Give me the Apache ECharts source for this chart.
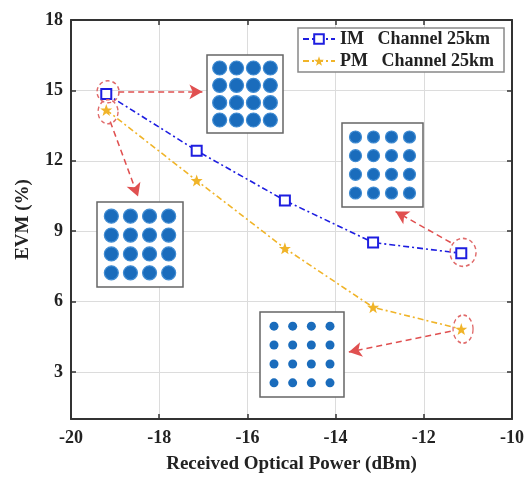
<!DOCTYPE html>
<html><head><meta charset="utf-8">
<script src="https://cdn.jsdelivr.net/npm/echarts@6/dist/echarts.min.js"></script>
<style>html,body{margin:0;padding:0;background:#fff}#c{width:529px;height:483px}</style>
</head><body><div id="c"></div>
<script>
// ---- data ----
const powerIM = [-19.2, -17.15, -15.15, -13.15, -11.15];
const evmIM   = [14.85, 12.43, 10.31, 8.52, 8.06];
const powerPM = [-19.2, -17.15, -15.15, -13.15, -11.15];
const evmPM   = [14.17, 11.16, 8.27, 5.76, 4.83];
const yTicks  = [3, 6, 9, 12, 15, 18];
const legendNames = ['IM   Channel 25km', 'PM   Channel 25km'];
// ideal 16-QAM constellation
const qamI = [-3, -1, 1, 3];
const qamQ = [3, 1, -1, -3];
// highlighted points (ellipses): [x, y, w, h]
const ellipses = [[-19.16, 14.94, 22, 22], [-19.16, 14.09, 20, 24], [-11.11, 8.10, 26, 28], [-11.11, 4.83, 20, 28]];
// arrows: [x1, y1, x2, y2]
const arrows = [[-18.93, 14.94, -17.02, 14.94], [-19.11, 13.67, -18.48, 10.48], [-11.39, 8.52, -12.64, 9.84], [-11.39, 4.74, -13.70, 3.85]];
// insets: blob size per inset
const insetBlob = [14, 14, 12, 9];

const serif = 'Liberation Serif';
const axisColor = '#333';
const insetRects = [
  {left: 207, top: 55, width: 76, height: 78},
  {left: 97, top: 202, width: 86, height: 85},
  {left: 342, top: 123, width: 81, height: 84},
  {left: 260, top: 312, width: 84, height: 85}
];

const qamPoints = [];
qamQ.forEach(q => qamI.forEach(i => qamPoints.push([i, q])));

const grids = [{left: 71, top: 20, right: 17, bottom: 64}];
const xAxes = [
  {type: 'value', gridIndex: 0, min: -20, max: -10, interval: 2, position: 'bottom',
   axisLine: {show: true, onZero: false, lineStyle: {color: axisColor, width: 2}},
   axisTick: {show: true, inside: true, length: 5, lineStyle: {color: axisColor, width: 1.5}},
   axisLabel: {color: '#222', fontFamily: serif, fontWeight: 'bold', fontSize: 18, margin: 10},
   splitLine: {show: true, lineStyle: {color: '#dcdcdc', width: 1}},
   name: 'Received Optical Power (dBm)', nameLocation: 'middle', nameGap: 36,
   nameTextStyle: {color: '#222', fontFamily: serif, fontWeight: 'bold', fontSize: 19}},
  {type: 'value', gridIndex: 0, min: -20, max: -10, interval: 2, position: 'top',
   axisLine: {show: true, onZero: false, lineStyle: {color: axisColor, width: 2}},
   axisTick: {show: true, inside: true, length: 5, lineStyle: {color: axisColor, width: 1.5}},
   axisLabel: {show: false}, splitLine: {show: false}}
];
const yAxes = [
  {type: 'value', gridIndex: 0, min: 1, max: 18, position: 'left',
   axisLine: {show: true, onZero: false, lineStyle: {color: axisColor, width: 2}},
   axisTick: {show: true, inside: true, length: 5, customValues: yTicks, lineStyle: {color: axisColor, width: 1.5}},
   axisLabel: {customValues: yTicks, color: '#222', fontFamily: serif, fontWeight: 'bold', fontSize: 18, margin: 8},
   splitLine: {show: true, lineStyle: {color: '#dcdcdc', width: 1}},
   name: 'EVM (%)', nameLocation: 'middle', nameGap: 38,
   nameTextStyle: {color: '#222', fontFamily: serif, fontWeight: 'bold', fontSize: 19}},
  {type: 'value', gridIndex: 0, min: 1, max: 18, position: 'right',
   axisLine: {show: true, onZero: false, lineStyle: {color: axisColor, width: 2}},
   axisTick: {show: true, inside: true, length: 5, customValues: yTicks, lineStyle: {color: axisColor, width: 1.5}},
   axisLabel: {show: false}, splitLine: {show: false}}
];

const series = [
  {name: legendNames[0], type: 'line', xAxisIndex: 0, yAxisIndex: 0, z: 5,
   data: powerIM.map((x, k) => [x, evmIM[k]]),
   symbol: 'emptyRect', symbolSize: 10,
   itemStyle: {color: '#1e1ee0', borderWidth: 1.5},
   lineStyle: {color: '#1e1ee0', width: 1.6, type: [6, 3, 2, 3]}},
  {name: legendNames[1], type: 'line', xAxisIndex: 0, yAxisIndex: 0, z: 5,
   data: powerPM.map((x, k) => [x, evmPM[k]]),
   symbol: 'path://M0,-10 L2.4,-3.1 L9.5,-3.1 L3.8,1.2 L5.9,8.1 L0,4 L-5.9,8.1 L-3.8,1.2 L-9.5,-3.1 L-2.4,-3.1 Z',
   symbolSize: 12,
   itemStyle: {color: '#f0b429'},
   lineStyle: {color: '#f0b429', width: 1.6, type: [6, 3, 2, 3]}},
  {name: 'annot', type: 'scatter', xAxisIndex: 0, yAxisIndex: 0, z: 6, silent: true,
   data: ellipses.map(e => ({value: [e[0], e[1]], symbolSize: [e[2], e[3]]})),
   symbol: 'circle',
   itemStyle: {color: 'rgba(0,0,0,0)', borderColor: '#e06a6a', borderWidth: 1.5, borderType: [4, 3], opacity: 1},
   markLine: {silent: true, symbol: ['none', 'arrow'], symbolSize: [11, 13], label: {show: false},
     lineStyle: {color: '#e05050', width: 1.5, type: [6, 4]},
     data: arrows.map(a => [{coord: [a[0], a[1]]}, {coord: [a[2], a[3]]}])}}
];

insetRects.forEach((r, k) => {
  const gi = k + 1;
  grids.push(Object.assign({show: true, backgroundColor: '#fff', borderColor: '#666', borderWidth: 1.5, z: 8}, r));
  xAxes.push({type: 'value', gridIndex: gi, min: -4.5, max: 4.5, show: false, z: 8});
  yAxes.push({type: 'value', gridIndex: gi, min: -4.5, max: 4.5, show: false, z: 8});
  series.push({type: 'scatter', xAxisIndex: gi + 1, yAxisIndex: gi + 1, z: 9, silent: true,
    data: qamPoints, symbol: 'circle', symbolSize: insetBlob[k],
    itemStyle: {color: '#1a6cbc', opacity: 1, borderColor: k < 3 ? '#3f8bd2' : '#1a6cbc', borderWidth: k < 3 ? 1.2 : 0}});
});

const chart = echarts.init(document.getElementById('c'), null, {renderer: 'canvas'});
chart.setOption({
  animation: false,
  backgroundColor: '#fff',
  grid: grids,
  xAxis: xAxes,
  yAxis: yAxes,
  legend: {data: legendNames, orient: 'vertical', left: 298, top: 28, z: 10,
    backgroundColor: '#fff', borderColor: '#888', borderWidth: 1.5, padding: [2, 10, 2, 4],
    itemGap: 4, itemWidth: 32, itemHeight: 12,
    textStyle: {color: '#222', fontFamily: serif, fontWeight: 'bold', fontSize: 18}},
  series: series
});
</script></body></html>
